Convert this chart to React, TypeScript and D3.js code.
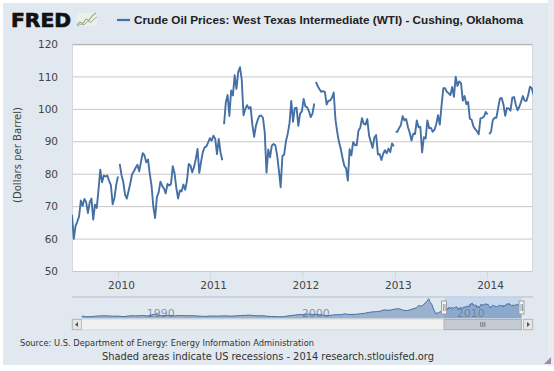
import React, { useMemo } from 'react';
import * as d3 from 'd3';

// weekly (Wednesday) WTI closes, dollars per barrel, starting 2009-07-01
const seriesStart = '2009-07-01';
const viewStart = '2009-07-01';
const viewEnd = '2014-06-30';

const wti2009 = [
  67.5, 60.1, 64.0, 65.4, 67.0, 71.9, 70.2, 72.4, 71.4, 68.0, 71.3, 72.5, 66.0, 70.6,
  69.6, 75.2, 81.4, 77.5, 79.6, 79.3, 79.6, 77.9, 76.6, 70.7, 72.7, 76.7, 79.3,
];
const wti2010 = [
  83.2, 79.7, 77.6, 73.7, 72.5, 74.8, 77.3, 80.0, 80.9, 82.0, 82.9, 80.9, 83.8,
  86.5, 85.8, 83.7, 84.5, 80.0, 76.4, 69.9, 66.5, 72.9, 74.4, 77.7, 76.4, 75.6,
  74.1, 77.0, 76.5, 77.0, 82.5, 80.3, 75.8, 72.5, 75.0, 74.7, 76.8, 75.2, 77.9,
  83.2, 82.7, 80.6, 82.2, 84.7, 87.8, 80.4, 83.9, 86.8, 88.3, 88.6, 89.8, 91.1,
];
const wti2011 = [
  90.3, 91.9, 90.9, 86.2, 90.9, 86.7, 84.3, 95.4, 102.2, 104.4, 98.0, 105.8, 104.3,
  110.5, 106.3, 111.5, 113.0, 109.2, 98.2, 100.1, 101.3, 100.3, 100.7, 95.3, 91.5, 94.9,
  96.7, 98.0, 98.1, 97.4, 92.9, 80.5, 87.6, 85.2, 88.8, 89.3, 88.9, 85.9, 81.2,
  76.0, 85.6, 86.1, 90.2, 92.5, 95.7, 102.6, 96.2, 100.4, 100.5, 94.9, 98.7, 99.4,
];
const wti2012 = [
  103.2, 100.9, 100.6, 99.4, 97.6, 98.7, 101.8, 108.5, 107.1, 106.2, 105.4, 105.6, 105.4,
  101.5, 102.7, 102.7, 103.6, 105.2, 96.8, 93.0, 89.9, 87.8, 85.0, 82.6, 81.8, 78.0,
  87.7, 85.8, 89.9, 89.0, 88.9, 93.4, 94.3, 97.3, 95.5, 95.3, 97.0, 91.9, 90.0,
  88.1, 91.3, 92.1, 86.1, 86.2, 84.4, 86.3, 87.4, 86.5, 87.9, 86.8, 89.5, 88.6,
];
const wti2013 = [
  93.1, 93.1, 94.2, 95.2, 97.9, 96.6, 97.0, 94.5, 92.8, 90.4, 92.5, 92.4, 96.6,
  94.5, 94.6, 86.7, 91.4, 91.0, 96.6, 94.2, 94.3, 93.1, 93.7, 95.4, 98.2, 95.3,
  101.2, 106.5, 106.5, 105.4, 105.0, 104.4, 106.9, 103.9, 110.1, 107.2, 108.6, 108.1, 102.7,
  104.1, 101.6, 102.3, 97.1, 96.8, 94.8, 93.9, 93.3, 92.3, 97.2, 97.4, 97.8, 99.2,
];
const wti2014 = [
  98.4, 92.3, 93.2, 96.7, 97.4, 97.4, 100.4, 103.3, 103.5, 101.5, 98.0, 100.4, 100.3,
  99.6, 103.6, 103.8, 101.4, 99.7, 100.8, 102.4, 104.1, 102.7, 102.6, 104.4, 107.0, 106.5,
  104.5,
];

// holidays where the FRED line breaks
const gapDates = ['2010-01-02', '2011-02-20', '2012-02-19', '2012-12-29', '2014-01-04'];

// navigator history: year, then quarterly averages
const navQuarterly = [
  [1986, 17.7, 13.8, 12.9, 15.1],
  [1987, 18.1, 19.2, 20.1, 18.9],
  [1988, 16.9, 17.4, 15.6, 14.1],
  [1989, 18.0, 20.4, 19.2, 20.2],
  [1990, 21.7, 17.9, 26.2, 31.9],
  [1991, 21.2, 20.4, 21.5, 21.6],
  [1992, 19.1, 21.6, 21.7, 20.5],
  [1993, 20.2, 19.9, 17.9, 16.6],
  [1994, 15.0, 17.8, 18.6, 17.6],
  [1995, 18.4, 19.4, 17.7, 18.0],
  [1996, 19.7, 21.7, 22.4, 24.8],
  [1997, 22.8, 20.0, 19.9, 20.0],
  [1998, 15.9, 14.6, 14.1, 12.9],
  [1999, 13.0, 17.6, 21.7, 24.6],
  [2000, 28.8, 28.8, 31.6, 31.9],
  [2001, 28.8, 27.9, 26.7, 20.4],
  [2002, 21.6, 26.3, 28.3, 28.2],
  [2003, 34.0, 29.0, 30.2, 31.2],
  [2004, 35.2, 38.3, 43.9, 48.3],
  [2005, 49.7, 53.1, 63.2, 60.0],
  [2006, 63.3, 70.4, 70.5, 60.0],
  [2007, 58.2, 65.0],
];
const navMonthly: [string, number][] = [
  ['2007-07-15', 74.1], ['2007-08-15', 72.4], ['2007-09-15', 79.9], ['2007-10-15', 86.2],
  ['2007-11-15', 94.6], ['2007-12-15', 91.7], ['2008-01-15', 93.0], ['2008-02-15', 95.4],
  ['2008-03-15', 105.5], ['2008-04-15', 112.6], ['2008-05-15', 125.4], ['2008-06-15', 133.9],
  ['2008-07-03', 145.3], ['2008-07-31', 124.1], ['2008-08-15', 116.7], ['2008-09-15', 104.1],
  ['2008-10-15', 76.6], ['2008-11-15', 57.3], ['2008-12-19', 33.9], ['2009-01-15', 41.7],
  ['2009-02-15', 39.1], ['2009-03-15', 47.9], ['2009-04-15', 49.6], ['2009-05-15', 59.0],
  ['2009-06-15', 69.6],
];

const yTicks = [50, 60, 70, 80, 90, 100, 110, 120];
const navTickYears = [1990, 2000, 2010];

const title = 'Crude Oil Prices: West Texas Intermediate (WTI) - Cushing, Oklahoma';
const yTitle = '(Dollars per Barrel)';
const sourceText = 'Source: U.S. Department of Energy: Energy Information Administration';
const footerText = 'Shaded areas indicate US recessions - 2014 research.stlouisfed.org';

const LINE = '#4570a5';
const BG = '#e1e8ef';
const FONT = '"DejaVu Sans", Verdana, sans-serif';

const parse = d3.utcParse('%Y-%m-%d');
type Pt = { date: Date; value: number | null };

export default function App() {
  const width = 554;
  const height = 371;
  const plot = { left: 72, right: 533, top: 44.5, bottom: 271.5 };
  const nav = { top: 297, bottom: 318.5 };

  const chart = useMemo(() => {
    const start = parse(seriesStart)!;
    const values = [...wti2009, ...wti2010, ...wti2011, ...wti2012, ...wti2013, ...wti2014];
    const weekly: Pt[] = values.map((v, i) => ({ date: d3.utcDay.offset(start, 7 * i), value: v }));
    const gaps: Pt[] = gapDates.map((s) => ({ date: parse(s)!, value: null }));
    const linePts = [...weekly, ...gaps].sort((a, b) => +a.date - +b.date);

    const history: Pt[] = [];
    navQuarterly.forEach(([year, ...qs]) => {
      qs.forEach((v, q) => history.push({ date: new Date(Date.UTC(year, q * 3 + 1, 15)), value: v }));
    });
    navMonthly.forEach(([s, v]) => history.push({ date: parse(s)!, value: v }));
    const navPts = [...history, ...weekly];

    const x = d3.scaleUtc().domain([parse(viewStart)!, parse(viewEnd)!]).range([plot.left, plot.right]);
    const y = d3.scaleLinear().domain([50, 120]).range([plot.bottom, plot.top]);
    const xn = d3
      .scaleUtc()
      .domain([new Date(Date.UTC(1985, 6, 1)), new Date(Date.UTC(2015, 2, 28))])
      .range([plot.left, plot.right]);
    const yn = d3.scaleLinear().domain([0, 150]).range([nav.bottom, nav.top + 1]);

    const line = d3
      .line<Pt>()
      .defined((d) => d.value != null)
      .x((d) => x(d.date))
      .y((d) => y(d.value as number));
    const navLine = d3
      .line<Pt>()
      .x((d) => xn(d.date))
      .y((d) => yn(d.value as number));
    const navArea = d3
      .area<Pt>()
      .x((d) => xn(d.date))
      .y0(nav.bottom)
      .y1((d) => yn(d.value as number));

    return {
      x,
      y,
      xn,
      path: line(linePts) ?? '',
      navPath: navLine(navPts) ?? '',
      navAreaPath: navArea(navPts) ?? '',
      xTicks: x.ticks(d3.utcYear.every(1)!),
    };
  }, []);

  const { x, y, xn } = chart;
  const selX0 = xn(parse(viewStart)!);
  const selX1 = xn(parse(viewEnd)!);
  const barY = 319;
  const barH = 11;

  return (
    <div style={{ position: 'absolute', left: 0, top: 0, width, height }}>
      <svg width={width} height={height} style={{ display: 'block', fontFamily: FONT }}>
        <rect x={0} y={0} width={width} height={height} fill="#ffffff" />
        <rect x={548} y={0} width={6} height={366} fill="#e9edf2" />
        <rect x={3} y={3} width={545} height={362} fill={BG} />

        {/* FRED logo */}
        <text x={11} y={27} fontSize={19} fontWeight={900} fill="#111" stroke="#111" strokeWidth={0.7}
          textLength={60} lengthAdjust="spacingAndGlyphs">FRED</text>
        <g fill="none" strokeLinejoin="round">
          <rect x={77} y={13} width={20} height={13} fill="#edf1ea" opacity={0.8} />
          <polyline points="77,25 80,22 83,23.5 86,19 89,20.5 92,16 96,13" stroke="#8db86b" strokeWidth={1.2} />
          <polyline points="77,26 81,24 84,25 88,21 91,22.5 94,19 97,17" stroke="#a3ab9f" strokeWidth={1} />
        </g>

        {/* legend */}
        <line x1={117} x2={130} y1={20} y2={20} stroke={LINE} strokeWidth={2.2} />
        <text x={134} y={24} fontSize={11.5} fontWeight="bold" fill="#222" textLength={389}
          lengthAdjust="spacingAndGlyphs" fontFamily='"Liberation Sans", Arial, sans-serif'>{title}</text>

        {/* plot area */}
        <rect x={plot.left} y={plot.top - 1} width={plot.right - plot.left} height={plot.bottom - plot.top + 1} fill="#ffffff" />
        {yTicks.map((t) => (
          <line key={t} x1={plot.left} x2={plot.right} y1={y(t)} y2={y(t)}
            stroke={t === 120 ? '#b4b4b4' : '#c8c8c8'} strokeWidth={t === 120 ? 1.6 : 1} />
        ))}
        <line x1={plot.left + 0.5} x2={plot.left + 0.5} y1={plot.top - 1} y2={plot.bottom} stroke="#d4d8dc" />
        <line x1={plot.right - 0.5} x2={plot.right - 0.5} y1={plot.top - 1} y2={plot.bottom} stroke="#d4d8dc" />
        {yTicks.map((t) => (
          <text key={t} x={58} y={y(t)} dy="0.35em" textAnchor="end" fontSize={10.5} fill="#444">{t}</text>
        ))}
        <text transform="translate(21,155) rotate(-90)" textAnchor="middle" fontSize={10.5} fill="#444"
          textLength={96} lengthAdjust="spacingAndGlyphs">{yTitle}</text>

        {chart.xTicks.map((d) => (
          <g key={+d}>
            <line x1={x(d)} x2={x(d)} y1={plot.bottom} y2={plot.bottom + 7} stroke="#d2d6db" />
            <text x={x(d) + 3} y={289} textAnchor="middle" fontSize={10.5} fill="#444">{d.getUTCFullYear()}</text>
          </g>
        ))}

        <defs>
          <clipPath id="plot-clip">
            <rect x={plot.left} y={plot.top - 2} width={plot.right - plot.left} height={plot.bottom - plot.top + 4} />
          </clipPath>
        </defs>
        <path d={chart.path} fill="none" stroke={LINE} strokeWidth={1.9} strokeLinejoin="round"
          clipPath="url(#plot-clip)" />

        {/* navigator */}
        <rect x={selX0} y={nav.top} width={selX1 - selX0} height={nav.bottom - nav.top} fill="#c7d8ee" />
        {navTickYears.map((yr) => (
          <text key={yr} x={xn(new Date(Date.UTC(yr, 0, 1))) + 5} y={316.5} fontSize={11} fill="#8a96a6">{yr}</text>
        ))}
        <path d={chart.navAreaPath} fill={LINE} fillOpacity={0.45} />
        <path d={chart.navPath} fill="none" stroke={LINE} strokeWidth={1} />
        <line x1={plot.left} x2={plot.right} y1={nav.top} y2={nav.top} stroke="#b6bcc4" />
        <line x1={selX0} x2={selX1} y1={nav.top} y2={nav.top} stroke="#c7d8ee" />

        {/* scrollbar */}
        <rect x={plot.left} y={barY} width={plot.right - plot.left} height={barH} fill="#f0f0f0" stroke="#d6d6d6" />
        <rect x={plot.left + 0.5} y={barY + 0.5} width={9} height={barH - 1} fill="#e6e6e6" stroke="#bdbdbd" />
        <path d={`M${plot.left + 6},${barY + 3} L${plot.left + 3},${barY + 5.5} L${plot.left + 6},${barY + 8} Z`} fill="#555" />
        <rect x={plot.right - 9.5} y={barY + 0.5} width={9} height={barH - 1} fill="#e6e6e6" stroke="#bdbdbd" />
        <path d={`M${plot.right - 6},${barY + 3} L${plot.right - 3},${barY + 5.5} L${plot.right - 6},${barY + 8} Z`} fill="#555" />
        <rect x={selX0} y={barY + 0.5} width={selX1 - selX0} height={barH - 1} fill="#c4cbd3" stroke="#aab2bb" />
        {[-2, 0, 2].map((o) => (
          <line key={o} x1={(selX0 + selX1) / 2 + o} x2={(selX0 + selX1) / 2 + o} y1={barY + 3} y2={barY + 8} stroke="#6f7780" />
        ))}
        {[selX0, selX1].map((hx, i) => (
          <g key={i}>
            <rect x={hx - 2.5} y={301} width={5} height={13} fill="#f5f5f5" stroke="#9aa0a6" />
            <line x1={hx - 0.5} x2={hx - 0.5} y1={304} y2={311} stroke="#9aa0a6" />
            <line x1={hx + 1} x2={hx + 1} y1={304} y2={311} stroke="#9aa0a6" />
          </g>
        ))}

        {/* credits */}
        <text x={20} y={346} fontSize={9} fill="#333" textLength={294} lengthAdjust="spacingAndGlyphs">{sourceText}</text>
        <text x={268} y={360} textAnchor="middle" fontSize={10.5} fill="#333" textLength={332}
          lengthAdjust="spacingAndGlyphs">{footerText}</text>
        <path d="M551,357 L551,364 L544,364 Z" fill="#a28aa8" />
      </svg>
    </div>
  );
}
